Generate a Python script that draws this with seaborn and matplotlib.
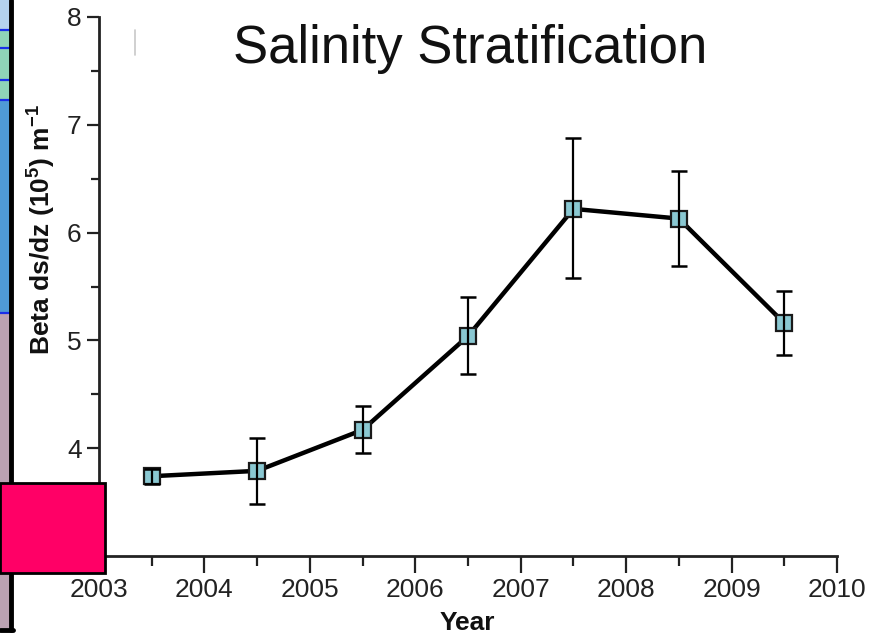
import matplotlib
matplotlib.use("Agg")
import matplotlib.pyplot as plt
from matplotlib.patches import Rectangle
from matplotlib.lines import Line2D
from matplotlib.ticker import MultipleLocator
import seaborn as sns
import pandas as pd

# ---- data ----
years = [2003.5, 2004.5, 2005.5, 2006.5, 2007.5, 2008.5, 2009.5]
beta = [3.74, 3.79, 4.17, 5.04, 6.22, 6.13, 5.16]
err_low = [0.07, 0.31, 0.21, 0.35, 0.64, 0.44, 0.30]
err_high = [0.07, 0.30, 0.22, 0.36, 0.66, 0.44, 0.30]
x_ticks = [2003, 2004, 2005, 2006, 2007, 2008, 2009, 2010]
y_ticks = [4, 5, 6, 7, 8]
title = "Salinity Stratification"
xlabel = "Year"
ylabel = r"Beta ds/dz (10$^{\mathbf{5}}$) m$^{\mathbf{-1}}$"

df = pd.DataFrame({"year": years, "beta": beta})

sns.set_style("ticks")
plt.rcParams["font.family"] = ["Liberation Sans", "DejaVu Sans"]
plt.rcParams["mathtext.fontset"] = "custom"
plt.rcParams["mathtext.rm"] = "Liberation Sans"
plt.rcParams["mathtext.bf"] = "Liberation Sans:bold"
plt.rcParams["mathtext.default"] = "bf"

fig = plt.figure(figsize=(8.72, 6.4), dpi=100)
ax = fig.add_axes([99 / 872, 1 - 556 / 640, 738 / 872, 539 / 640])

sns.lineplot(data=df, x="year", y="beta", ax=ax, color="black", linewidth=3.2,
             marker="s", markersize=12, markerfacecolor="#8ac8d2",
             markeredgecolor="#1a1a1a", markeredgewidth=1.6, zorder=3)
ax.errorbar(years, beta, yerr=[err_low, err_high], fmt="none", ecolor="black",
            elinewidth=1.6, capsize=6, capthick=1.8, zorder=5)

ax.set_xlim(2003, 2010)
ax.set_ylim(3, 8)
ax.set_xticks(x_ticks)
ax.set_yticks(y_ticks)
ax.xaxis.set_minor_locator(MultipleLocator(0.5))
ax.yaxis.set_minor_locator(MultipleLocator(0.5))
ax.tick_params(axis="both", which="major", labelsize=19, length=12, width=1.6,
               direction="out", colors="#222222", labelcolor="#222222")
ax.tick_params(axis="x", which="major", pad=4)
ax.tick_params(axis="both", which="minor", length=7, width=1.6, direction="out", colors="#222222")
ax.tick_params(axis="y", which="major", length=9)
ax.tick_params(axis="y", which="minor", length=6)
for s in ["top", "right"]:
    ax.spines[s].set_visible(False)
for s in ["left", "bottom"]:
    ax.spines[s].set_linewidth(2.0)
    ax.spines[s].set_color("#222222")

ax.set_xlabel(xlabel, fontsize=19, fontweight="bold", color="#111111")
ax.set_ylabel(ylabel, fontsize=19, fontweight="bold", color="#111111")
ax.xaxis.set_label_coords(0.499, -0.102)
ax.yaxis.set_label_coords(-0.056, 0.605)

fig.text(470 / 872, 1 - 49 / 640, title, fontsize=38, ha="center", va="center", color="#111111")

# ---- slide decorations ----
W, H = 872, 640
def frect(x0, y0, x1, y1, **kw):
    fig.patches.append(Rectangle((x0 / W, 1 - y1 / H), (x1 - x0) / W, (y1 - y0) / H,
                                 transform=fig.transFigure, **kw))

frect(0, 0, 10, 30, facecolor="#b4d2ee", edgecolor="none", zorder=1)
frect(0, 30, 10, 100, facecolor="#8fd3b8", edgecolor="none", zorder=1)
frect(0, 100, 10, 313, facecolor="#4f9ad6", edgecolor="none", zorder=1)
frect(0, 313, 10, 628, facecolor="#bba2b2", edgecolor="none", zorder=1)
for yy in [30, 48, 80, 100, 313]:
    fig.lines.append(Line2D([0, 10 / W], [1 - yy / H, 1 - yy / H], transform=fig.transFigure,
                            color="#1a2ee8", linewidth=1.6, zorder=2))
fig.lines.append(Line2D([11 / W, 11 / W], [1, 1 - 630 / H], transform=fig.transFigure,
                        color="black", linewidth=3.5, zorder=2))
fig.lines.append(Line2D([0, 12.5 / W], [1 - 630 / H, 1 - 630 / H], transform=fig.transFigure,
                        color="black", linewidth=3.5, zorder=2))
fig.lines.append(Line2D([135 / W, 135 / W], [1 - 30 / H, 1 - 55 / H], transform=fig.transFigure,
                        color="#c8c8c8", linewidth=1.2, zorder=2))
frect(0, 483, 105, 573, facecolor="#ff0066", edgecolor="black", linewidth=2, zorder=10)

fig.savefig("out.png", dpi=100, facecolor="white")
